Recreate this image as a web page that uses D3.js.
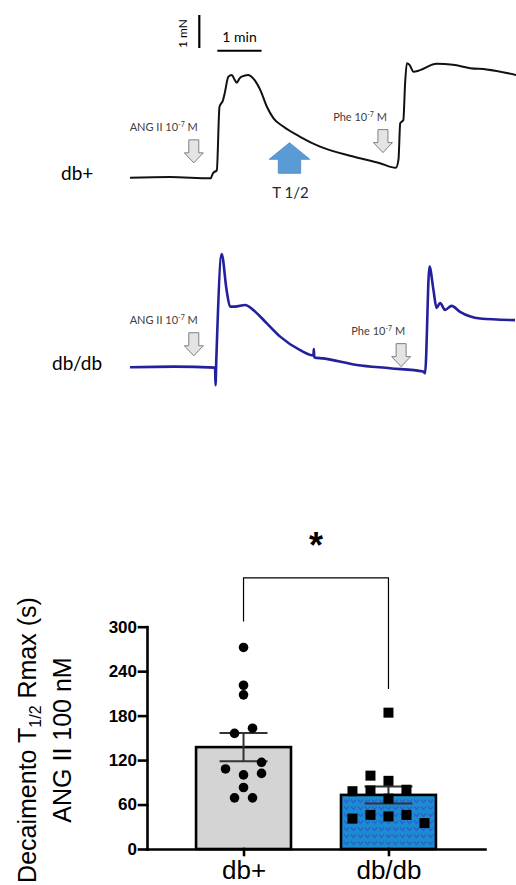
<!DOCTYPE html>
<html>
<head>
<meta charset="utf-8">
<script src="https://cdn.jsdelivr.net/npm/d3@7"></script>
<style>
body { margin: 0; background: #fff; }
svg { display: block; }
</style>
</head>
<body>
<svg id="canvas" width="516" height="885"></svg>
<script>
// isometric tension traces: time in min, force in mN
let traceDbPlus = [
    [0, 0], [0.9, 0.02], [1.82, -0.02], [1.87, 0.13], [1.96, 0.23], [2.02, 2.15], [2.1, 2.35],
    [2.14, 2.57], [2.22, 3.06], [2.3, 3.11], [2.35, 3.0], [2.41, 2.88], [2.47, 3.0], [2.52, 3.06],
    [2.67, 3.11], [2.78, 3.01], [2.94, 2.66], [3.09, 2.15], [3.24, 1.8], [3.46, 1.55], [3.84, 1.24],
    [4.29, 0.94], [5.04, 0.64], [5.64, 0.44], [6.0, 0.3], [6.06, 0.54], [6.1, 1.65], [6.17, 1.75],
    [6.21, 2.86], [6.25, 3.47], [6.31, 3.42], [6.4, 3.21], [6.55, 3.26], [6.92, 3.45], [7.29, 3.42],
    [7.68, 3.32], [8.05, 3.28], [8.73, 3.11]
];
let traceDbDb = [
    [0, 0], [1.0, 0.02], [1.92, -0.01], [1.93, -0.54], [1.95, 0.3], [2.07, 3.43], [2.18, 2.34],
    [2.26, 1.84], [2.37, 1.84], [2.6, 1.89], [2.78, 1.74], [3.09, 1.33], [3.39, 0.93], [3.84, 0.52],
    [4.14, 0.36], [4.15, 0.55], [4.16, 0.3], [4.36, 0.27], [5.12, 0.07], [5.87, -0.03], [6.62, -0.13],
    [6.66, -0.18], [6.76, 3.05], [6.85, 2.34], [6.92, 1.8], [7.0, 1.95], [7.11, 1.74], [7.26, 1.86],
    [7.45, 1.68], [7.9, 1.48], [8.69, 1.43]
];

// T1/2 decay, seconds
let groups = ['db+', 'db/db'];
let means = [137.5, 73];
let sems = [19, 11.5];
let valuesDbPlus = [272, 221, 208, 156, 163, 117, 108, 100, 102, 83, 69, 69];
let valuesDbDb = [184, 99, 92, 78, 79, 80, 68, 41, 46, 44, 46, 35];
let slotsDbPlus = [0, 0, 0, -1, 1, 2, -2, 0, 2, 0, -1, 1];
let slotsDbDb = [0, -2, 0, -4, -2, 2, 0, -4, -2, 0, 2, 4];
let yTicks = [0, 60, 120, 180, 240, 300];

let canvas = d3.select('#canvas');
let labelFont = 'Lato, "Open Sans", sans-serif';
let chartFont = '"Liberation Sans", Arial, sans-serif';

let time = d3.scaleLinear().domain([0, 1]).range([130, 174.3]);
let forceDbPlus = d3.scaleLinear().domain([0, 1]).range([177.7, 144.7]);
let forceDbDb = d3.scaleLinear().domain([0, 1]).range([367.3, 334.3]);

let drawTrace = (data, yScale, color, width) => {
    canvas.append('path')
        .datum(data)
        .attr('d', d3.line()
            .x((d) => time(d[0]))
            .y((d) => yScale(d[1]))
            .curve(d3.curveMonotoneX))
        .attr('fill', 'none')
        .attr('stroke', color)
        .attr('stroke-width', width)
        .attr('stroke-linejoin', 'round');
};

let downArrow = (cx, top) => {
    return 'M' + (cx - 5) + ',' + top + 'H' + (cx + 5) + 'V' + (top + 13) + 'H' + (cx + 9.5)
        + 'L' + cx + ',' + (top + 23) + 'L' + (cx - 9.5) + ',' + (top + 13) + 'H' + (cx - 5) + 'Z';
};

let drawEvent = (name, t, level, yScale) => {
    let cx = time(t);
    let top = yScale(level) - 23;
    canvas.append('path')
        .attr('d', downArrow(cx, top))
        .attr('fill', '#e4e4e4')
        .attr('stroke', '#7f7f7f')
        .attr('stroke-width', 1);
    let label = canvas.append('text')
        .attr('x', cx + 4)
        .attr('y', top - 9)
        .attr('text-anchor', 'end')
        .attr('font-family', labelFont)
        .attr('font-size', 11)
        .attr('fill', '#404040');
    label.append('tspan').text(name + ' 10');
    label.append('tspan').attr('font-size', 7).attr('dy', -4).text('-7');
    label.append('tspan').attr('dy', 4).text(' M');
};

drawTrace(traceDbPlus, forceDbPlus, '#111', 2);
drawTrace(traceDbDb, forceDbDb, '#23209c', 2.6);

drawEvent('ANG II', 1.44, 0.45, forceDbPlus);
drawEvent('Phe', 5.71, 0.76, forceDbPlus);
drawEvent('ANG II', 1.44, 0.35, forceDbDb);
drawEvent('Phe', 6.12, 0.02, forceDbDb);

// T1/2 marker
let tx = time(3.6);
canvas.append('path')
    .attr('d', 'M' + tx + ',142.7L' + (tx + 20.3) + ',159.3H' + (tx + 11.2) + 'V173.3H' + (tx - 11.2)
        + 'V159.3H' + (tx - 20.3) + 'Z')
    .attr('fill', '#5b9bd5')
    .attr('stroke', '#4a88c4')
    .attr('stroke-width', 0.8);
canvas.append('text')
    .attr('x', tx + 1)
    .attr('y', 198)
    .attr('text-anchor', 'middle')
    .attr('font-family', labelFont)
    .attr('font-size', 15)
    .attr('fill', '#262626')
    .text('T 1/2');

// scale bars
let mN = forceDbPlus(0) - forceDbPlus(1);
let minute = time(1) - time(0);
canvas.append('line')
    .attr('x1', 199.3).attr('x2', 199.3)
    .attr('y1', 15).attr('y2', 15 + mN)
    .attr('stroke', '#000').attr('stroke-width', 2.2);
canvas.append('line')
    .attr('x1', 217.3).attr('x2', 217.3 + minute)
    .attr('y1', 50.7).attr('y2', 50.7)
    .attr('stroke', '#000').attr('stroke-width', 2);
canvas.append('text')
    .attr('transform', 'translate(186.5,33.5) rotate(-90)')
    .attr('text-anchor', 'middle')
    .attr('font-family', labelFont)
    .attr('font-size', 12)
    .text('1 mN');
canvas.append('text')
    .attr('x', 239.5)
    .attr('y', 41.7)
    .attr('text-anchor', 'middle')
    .attr('font-family', labelFont)
    .attr('font-size', 14)
    .text('1 min');

canvas.append('text')
    .attr('x', 61).attr('y', 180)
    .attr('font-family', labelFont).attr('font-size', 19)
    .text('db+');
canvas.append('text')
    .attr('x', 52).attr('y', 370)
    .attr('font-family', labelFont).attr('font-size', 19)
    .text('db/db');

// bar chart
let y = d3.scaleLinear().domain([0, 300]).range([849, 626.7]);
let x = d3.scalePoint().domain(groups).range([147, 485]).padding(0.666);
let barWidth = x.step() * 0.655;

let pattern = canvas.append('defs').append('pattern')
    .attr('id', 'dots')
    .attr('width', 7).attr('height', 7)
    .attr('patternUnits', 'userSpaceOnUse');
pattern.append('rect').attr('width', 7).attr('height', 7).attr('fill', '#1c8ccf');
pattern.append('path')
    .attr('d', 'M1,1.5L3.5,4.5L6,1.5')
    .attr('fill', 'none')
    .attr('stroke', '#2a5fd8')
    .attr('stroke-width', 1.3);

canvas.selectAll('rect.bar')
    .data(groups)
    .enter()
    .append('rect')
    .attr('class', 'bar')
    .attr('x', (g) => x(g) - barWidth / 2)
    .attr('y', (g, i) => y(means[i]))
    .attr('width', barWidth)
    .attr('height', (g, i) => y(0) - y(means[i]))
    .attr('fill', (g, i) => i === 0 ? '#d4d4d4' : 'url(#dots)')
    .attr('stroke', '#000')
    .attr('stroke-width', 2.6);

let yAxis = canvas.append('g')
    .attr('transform', 'translate(147,0)')
    .call(d3.axisLeft(y).tickValues(yTicks).tickSize(8).tickSizeOuter(0).tickPadding(2));
let xAxis = canvas.append('g')
    .attr('transform', 'translate(0,849)')
    .call(d3.axisBottom(x).tickSize(6).tickSizeOuter(0).tickPadding(6));

[yAxis, xAxis].forEach((axis) => {
    axis.selectAll('path, line')
        .attr('stroke', '#000')
        .attr('stroke-width', 2.6)
        .attr('stroke-linecap', 'square');
});
yAxis.selectAll('text')
    .attr('font-family', chartFont)
    .attr('font-size', 17)
    .attr('font-weight', 'bold')
    .attr('fill', '#000');
xAxis.selectAll('text')
    .attr('font-family', chartFont)
    .attr('font-size', 26)
    .attr('fill', '#000');

// error bars
groups.forEach((g, i) => {
    let cx = x(g);
    let lo = y(means[i] - sems[i]);
    let hi = y(means[i] + sems[i]);
    canvas.append('path')
        .attr('d', 'M' + cx + ',' + lo + 'V' + hi + 'M' + (cx - 24) + ',' + hi + 'H' + (cx + 24)
            + 'M' + (cx - 24) + ',' + lo + 'H' + (cx + 24))
        .attr('fill', 'none')
        .attr('stroke', '#333')
        .attr('stroke-width', 2);
});

let slot = 9;
canvas.selectAll('circle.pt')
    .data(valuesDbPlus)
    .enter()
    .append('circle')
    .attr('class', 'pt')
    .attr('cx', (d, i) => x(groups[0]) + slotsDbPlus[i] * slot)
    .attr('cy', (d) => y(d))
    .attr('r', 4.8)
    .attr('fill', '#000');

canvas.selectAll('rect.pt')
    .data(valuesDbDb)
    .enter()
    .append('rect')
    .attr('class', 'pt')
    .attr('x', (d, i) => x(groups[1]) + slotsDbDb[i] * slot - 5)
    .attr('y', (d) => y(d) - 5)
    .attr('width', 10)
    .attr('height', 10)
    .attr('fill', '#000');

// significance bracket
canvas.append('path')
    .attr('d', 'M' + x(groups[0]) + ',' + y(307) + 'V' + y(366) + 'H' + x(groups[1]) + 'V' + y(216))
    .attr('fill', 'none')
    .attr('stroke', '#000')
    .attr('stroke-width', 1.2);
canvas.append('text')
    .attr('x', (x(groups[0]) + x(groups[1])) / 2)
    .attr('y', 558)
    .attr('text-anchor', 'middle')
    .attr('font-family', chartFont)
    .attr('font-weight', 'bold')
    .attr('font-size', 36)
    .text('*');

// y axis title
let title = canvas.append('text')
    .attr('transform', 'translate(36,740) rotate(-90)')
    .attr('text-anchor', 'middle')
    .attr('font-family', chartFont)
    .attr('font-size', 25);
title.append('tspan').text('Decaimento T');
title.append('tspan').attr('font-size', 16).attr('dy', 5).text('1/2');
title.append('tspan').attr('dy', -5).text(' Rmax (s)');
canvas.append('text')
    .attr('transform', 'translate(71,740) rotate(-90)')
    .attr('text-anchor', 'middle')
    .attr('font-family', chartFont)
    .attr('font-size', 25)
    .text('ANG II 100 nM');
</script>
</body>
</html>
